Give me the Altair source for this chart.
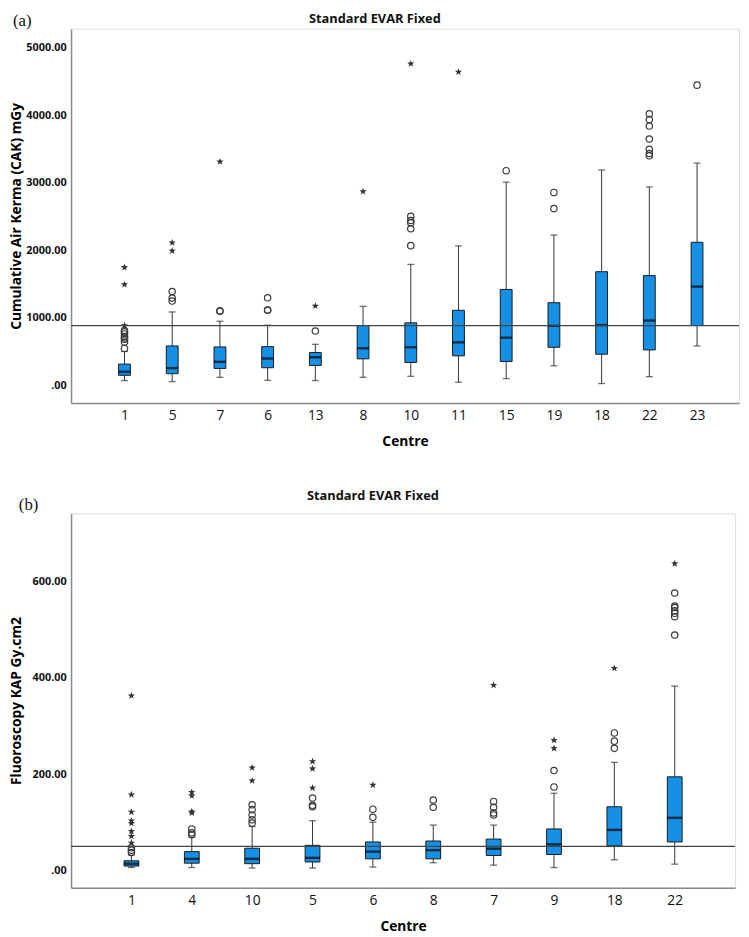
import altair as alt
import pandas as pd

# ---------------- Panel (a): Cumulative Air Kerma ----------------
centres_a = ["1", "5", "7", "6", "13", "8", "10", "11", "15", "19", "18", "22", "23"]
low_a = [69, 54, 117, 73, 69, 117, 132, 44, 98, 289, 25, 127, 582]
q1_a = [147, 171, 249, 259, 293, 391, 337, 435, 352, 562, 459, 523, 884]
med_a = [200, 254, 347, 396, 415, 547, 562, 635, 704, 880, 890, 958, 1461]
q3_a = [313, 582, 567, 572, 484, 884, 924, 1110, 1418, 1222, 1681, 1623, 2116]
high_a = [500, 1085, 948, 889, 606, 1168, 1789, 2063, 3006, 2224, 3187, 2937, 3289]
outliers_a = [
    [545, 640, 680, 700, 720, 760, 790, 811],
    [1246, 1290, 1388],
    [1095, 1104],
    [1110, 1114, 1295],
    [802],
    [],
    [2067, 2317, 2405, 2439, 2502],
    [],
    [3177],
    [2615, 2855],
    [],
    [3397, 3431, 3494, 3646, 3837, 3934, 4018],
    [4443],
]
extremes_a = [
    [885, 1491, 1745],
    [1990, 2111],
    [3309],
    [],
    [1173],
    [2869],
    [4760],
    [4638],
    [], [], [], [], [],
]
ref_a = 884

# ---------------- Panel (b): Fluoroscopy KAP ----------------
centres_b = ["1", "4", "10", "5", "6", "8", "7", "9", "18", "22"]
low_b = [7, 7, 6, 6, 8, 17, 12, 7, 23, 14]
q1_b = [10, 16, 15, 18.5, 25, 25, 32, 34, 52, 60]
med_b = [15, 25, 25, 27, 40, 43, 46, 55, 85, 110]
q3_b = [21, 40, 47, 53, 60, 62, 66, 87, 133, 195]
high_b = [33, 70, 92, 104, 101, 95, 95, 161, 225, 383]
outliers_b = [
    [38, 43, 48],
    [75, 79, 87],
    [99, 106, 116, 127, 137],
    [133, 136, 151],
    [111, 128],
    [132, 147],
    [116, 120, 132, 144],
    [174, 208],
    [254, 269, 286],
    [489, 527, 534, 539, 546, 549, 576],
]
extremes_b = [
    [58, 72, 82, 99, 104, 122, 158, 363],
    [120, 123, 156, 163],
    [187, 214],
    [172, 212, 227],
    [178],
    [],
    [385],
    [254, 271],
    [420],
    [637],
]
ref_b = 51

BLUE = "#1590E4"
STAR = ("M0,-1L0.24,-0.33L0.95,-0.31L0.39,0.13L0.59,0.81L0,0.41"
        "L-0.59,0.81L-0.39,0.13L-0.95,-0.31L-0.24,-0.33Z")
FONT = "Open Sans"


def long_points(centres, groups):
    rows = []
    for c, vals in zip(centres, groups):
        for v in vals:
            rows.append({"centre": c, "v": v})
    if not rows:
        rows = [{"centre": centres[0], "v": None}]
    return pd.DataFrame(rows)


def panel(centres, low, q1, med, q3, high, outl, extr, ref, domain, ticks,
          ytitle, tag, width, height, box_w, pad, align, tag_x, toff):
    stats = pd.DataFrame(dict(centre=centres, low=low, q1=q1, med=med,
                              q3=q3, high=high))
    pts = long_points(centres, outl)
    ext = long_points(centres, extr)

    xenc = alt.X("centre:N", sort=centres,
                 scale=alt.Scale(type="point", padding=pad, align=align),
                 axis=alt.Axis(title="Centre", labelAngle=0, ticks=False,
                               labelFontSize=14, labelFont=FONT,
                               labelColor="#111", labelPadding=6,
                               titleFontSize=14, titleFont=FONT,
                               titleFontWeight="bold", titlePadding=12,
                               domainColor="#8a8a8a", domainWidth=1.5))
    yscale = alt.Scale(domain=domain, nice=False, zero=False)
    yaxis = alt.Axis(title=ytitle, values=ticks, ticks=False, grid=False,
                     labelExpr="datum.value == 0 ? '.00' : format(datum.value, '.2f')",
                     labelFontSize=11, labelFont=FONT, labelFontWeight="bold",
                     labelColor="#111", labelPadding=5,
                     minExtent=41, maxExtent=41,
                     titleFontSize=14, titleFont=FONT, titleFontWeight="bold",
                     titlePadding=7, domainColor="#8a8a8a", domainWidth=1.5)

    def Y(f):
        return alt.Y(f, type="quantitative", scale=yscale, axis=yaxis)

    base = alt.Chart(stats)
    whisk = base.mark_rule(color="#333", strokeWidth=1).encode(
        x=xenc, y=Y("low"), y2="high:Q")
    cap_lo = base.mark_tick(size=7, thickness=1.3, color="#333").encode(
        x=xenc, y=Y("low"))
    cap_hi = base.mark_tick(size=7, thickness=1.3, color="#333").encode(
        x=xenc, y=Y("high"))
    box = base.mark_bar(size=box_w, color=BLUE, stroke="#1a1a1a",
                        strokeWidth=1).encode(x=xenc, y=Y("q1"), y2="q3:Q")
    medl = base.mark_tick(size=box_w, thickness=2.4, color="#000").encode(
        x=xenc, y=Y("med"))
    circ = alt.Chart(pts).mark_point(shape="circle", filled=False, size=42,
                                     color="#3a3a3a", strokeWidth=1.2,
                                     opacity=1).encode(x=xenc, y=Y("v"))
    star = alt.Chart(ext).mark_point(shape=STAR, filled=True, size=60,
                                     color="#333", opacity=1).encode(
        x=xenc, y=Y("v"))
    refl = alt.Chart(pd.DataFrame({"r": [ref]})).mark_rule(
        color="#444", strokeWidth=1.3).encode(y=Y("r"))
    tagt = alt.Chart(pd.DataFrame({"t": [tag]})).mark_text(
        font="Liberation Serif", fontSize=17, align="left",
        baseline="middle", color="#111").encode(
        text="t:N", x=alt.value(tag_x), y=alt.value(-8))

    return alt.layer(whisk, cap_lo, cap_hi, box, medl, circ, star, refl,
                     tagt).properties(
        width=width, height=height,
        title=alt.Title("Standard EVAR Fixed", frame="bounds", anchor="middle",
                        font=FONT, fontSize=13, fontWeight="bold",
                        color="#111", offset=toff))


chart_a = panel(centres_a, low_a, q1_a, med_a, q3_a, high_a, outliers_a,
                extremes_a, ref_a, [-264, 5279], [0, 1000, 2000, 3000, 4000, 5000],
                "Cumulative Air Kerma (CAK) mGy", "(a)", 678, 380, 12, 1.264,
                0.56, -59, -14)
chart_b = panel(centres_b, low_b, q1_b, med_b, q3_b, high_b, outliers_b,
                extremes_b, ref_b, [-35, 741], [0, 200, 400, 600],
                "Fluoroscopy KAP Gy.cm2", "(b)", 674, 380, 15, 1.015,
                0.5, -53, -6)

chart = alt.vconcat(chart_a, chart_b, spacing=40).properties(
    padding={"left": 1, "top": -4, "right": 0, "bottom": 0}
).configure_view(stroke=None).configure(background="white")

chart.save("out.html", embed_options={"renderer": "svg", "actions": False})
